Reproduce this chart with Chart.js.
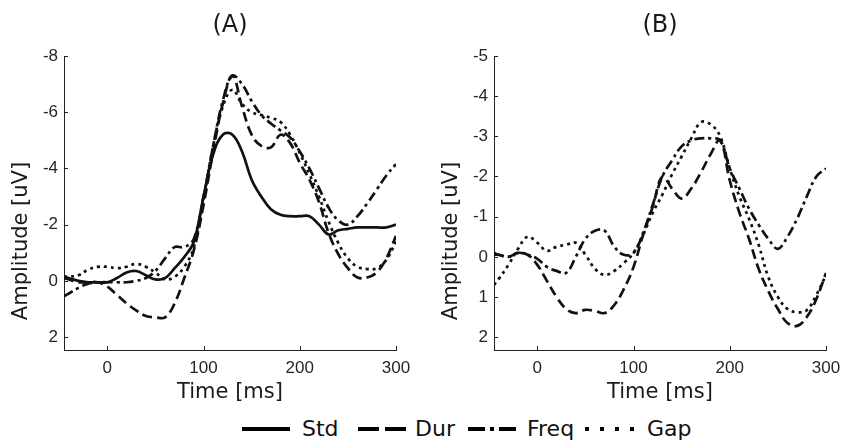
<!DOCTYPE html>
<html>
<head>
<meta charset="utf-8">
<script src="https://cdn.jsdelivr.net/npm/chart.js@4/dist/chart.umd.min.js"></script>
<style>
  html, body { margin: 0; padding: 0; background: #fff; }
  #wrap { position: relative; width: 842px; height: 440px; overflow: hidden; }
  #chartA { position: absolute; left: 0; top: 0; }
  #chartB { position: absolute; left: 430px; top: 0; }
  #legend { position: absolute; left: 0; top: 410px; }
</style>
</head>
<body>
<div id="wrap">
  <canvas id="chartA" width="421" height="410"></canvas>
  <canvas id="chartB" width="421" height="410"></canvas>
  <svg id="legend" width="842" height="30">
    <g stroke="#000" stroke-width="4">
      <line x1="242" y1="19" x2="290" y2="19"/>
      <line x1="358" y1="19" x2="408" y2="19" stroke-dasharray="21 6"/>
      <line x1="468" y1="19" x2="516" y2="19" stroke-dasharray="17 5 4 5"/>
      <line x1="585" y1="19" x2="635" y2="19" stroke-dasharray="4 11"/>
    </g>
    <g font-family="DejaVu Sans" font-size="22" fill="#111">
      <text x="302" y="26">Std</text>
      <text x="415" y="26">Dur</text>
      <text x="527" y="26">Freq</text>
      <text x="647" y="26">Gap</text>
    </g>
  </svg>
</div>
<script>
// time axis shared by every curve (ms)
const timeMs = [-45, -40, -30, -20, -10, 0, 10, 20, 30, 40, 50, 60, 70, 80, 90, 100, 110, 120,
  130, 140, 150, 160, 170, 180, 190, 200, 210, 220, 230, 240, 250, 260, 270, 280, 290, 300];

// panel (A) amplitudes, uV
const stdA = [-0.15, -0.1, 0.0, 0.05, 0.05, 0.05, -0.1, -0.3, -0.35, -0.2, -0.05, -0.1, -0.45, -0.85, -1.4,
  -3.0, -4.5, -5.2, -5.2, -4.6, -3.6, -3.0, -2.55, -2.35, -2.3, -2.3, -2.3, -2.0, -1.65, -1.8,
  -1.85, -1.9, -1.9, -1.9, -1.9, -2.0];
const durA = [-0.1, -0.05, 0.05, 0.05, 0.05, 0.2, 0.5, 0.8, 1.05, 1.25, 1.3, 1.3, 0.8, -0.1, -1.1,
  -2.7, -4.6, -6.3, -7.3, -6.2, -5.2, -4.8, -4.75, -5.2, -4.9, -4.2, -3.6, -2.8, -1.7, -0.95,
  -0.45, -0.12, -0.12, -0.3, -0.8, -1.6];
const freqA = [0.55, 0.45, 0.25, 0.1, 0.05, 0.05, 0.05, 0.05, 0.0, -0.1, -0.35, -0.8, -1.2, -1.2, -1.5,
  -3.0, -4.8, -6.4, -7.3, -7.0, -6.4, -5.9, -5.6, -5.35, -5.1, -4.6, -4.0, -3.3, -2.6, -2.15,
  -2.0, -2.3, -2.75, -3.25, -3.75, -4.15];
const gapA = [-0.15, -0.15, -0.2, -0.4, -0.5, -0.5, -0.45, -0.5, -0.6, -0.5, -0.3, -0.05, -0.15, -0.5, -1.2,
  -2.9, -4.8, -6.2, -6.8, -6.3, -6.0, -5.9, -5.8, -5.65, -5.2, -4.55, -3.8, -3.0, -2.1, -1.35,
  -0.8, -0.5, -0.42, -0.45, -0.75, -1.4];

// panel (B) amplitudes, uV
const durB = [-0.1, -0.05, 0.0, -0.1, -0.05, 0.2, 0.6, 1.0, 1.3, 1.4, 1.32, 1.35, 1.4, 1.2, 0.8,
  0.25, -0.55, -1.25, -2.0, -1.7, -1.45, -1.7, -2.1, -2.55, -2.9, -1.9, -1.1, -0.45, 0.3, 0.85,
  1.3, 1.65, 1.72, 1.5, 1.05, 0.4];
const freqB = [-0.05, -0.05, 0.0, -0.1, -0.05, 0.05, 0.25, 0.35, 0.4, 0.0, -0.45, -0.65, -0.65, -0.25, -0.05,
  -0.1, -0.6, -1.3, -2.0, -2.4, -2.75, -2.9, -2.95, -2.95, -2.9, -2.2, -1.7, -1.2, -0.8, -0.45,
  -0.2, -0.5, -0.95, -1.5, -2.0, -2.2];
const gapB = [0.7, 0.55, 0.2, -0.2, -0.5, -0.35, -0.15, -0.25, -0.3, -0.35, -0.05, 0.3, 0.45, 0.35, 0.15,
  -0.1, -0.55, -1.1, -1.55, -2.05, -2.5, -2.95, -3.35, -3.3, -3.0, -2.2, -1.5, -0.95, -0.3, 0.5,
  1.0, 1.3, 1.38, 1.33, 0.95, 0.45];

// tick labels
const xTicks = [0, 100, 200, 300];
const yTicksA = [-8, -6, -4, -2, 0, 2];
const yTicksB = [-5, -4, -3, -2, -1, 0, 1, 2];

const styles = {
  Std:  [],
  Dur:  [10, 5],
  Freq: [10, 4, 3, 4],
  Gap:  [3, 4]
};

function series(name, values) {
  return {
    label: name,
    data: timeMs.map((t, i) => ({ x: t, y: values[i] })),
    borderColor: '#111',
    borderWidth: 2.7,
    borderDash: styles[name],
    pointRadius: 0,
    tension: 0.4,
    fill: false
  };
}

// inward tick marks, panel title and y label
const axisDecor = {
  id: 'axisDecor',
  afterDraw(chart, args, opts) {
    const { ctx, chartArea: a, scales: { x, y } } = chart;
    ctx.save();
    ctx.strokeStyle = '#222';
    ctx.lineWidth = 1;
    ctx.beginPath();
    x.ticks.forEach(t => {
      const px = Math.round(x.getPixelForValue(t.value)) + 0.5;
      ctx.moveTo(px, a.bottom);
      ctx.lineTo(px, a.bottom - 4);
    });
    y.ticks.forEach(t => {
      const py = Math.round(y.getPixelForValue(t.value)) + 0.5;
      ctx.moveTo(a.left, py);
      ctx.lineTo(a.left + 4, py);
    });
    ctx.stroke();

    ctx.fillStyle = '#1a1a1a';
    ctx.textAlign = 'center';
    ctx.textBaseline = 'middle';
    ctx.font = '24px "DejaVu Sans"';
    ctx.fillText(opts.title, (a.left + a.right) / 2, 26);

    ctx.font = '21px "DejaVu Sans"';
    ctx.translate(22, (a.top + a.bottom) / 2 + 38);
    ctx.rotate(-Math.PI / 2);
    ctx.fillText('Amplitude [uV]', 0, 0);
    ctx.restore();
  }
};

function makePanel(id, title, datasets, yMin, yMax, yTicks) {
  new Chart(document.getElementById(id), {
    type: 'line',
    data: { datasets },
    plugins: [axisDecor],
    options: {
      responsive: false,
      animation: false,
      layout: { padding: { left: 0, right: 25, top: 56, bottom: 0 } },
      plugins: {
        legend: { display: false },
        tooltip: { enabled: false },
        axisDecor: { title }
      },
      scales: {
        x: {
          type: 'linear',
          min: -45,
          max: 300,
          afterBuildTicks: s => { s.ticks = xTicks.map(v => ({ value: v })); },
          afterFit: s => { s.height = 60; },
          grid: { display: false, drawTicks: false },
          border: { display: true, color: '#222', width: 1 },
          ticks: { color: '#262626', font: { family: 'Liberation Sans', size: 17 }, padding: 8, maxRotation: 0 },
          title: {
            display: true,
            text: 'Time [ms]',
            color: '#1a1a1a',
            font: { family: 'DejaVu Sans', size: 21 },
            padding: { top: 0, bottom: 5 }
          }
        },
        y: {
          type: 'linear',
          reverse: true,
          min: yMin,
          max: yMax,
          afterBuildTicks: s => { s.ticks = yTicks.map(v => ({ value: v })); },
          afterFit: s => { s.width = 64; },
          grid: { display: false, drawTicks: false },
          border: { display: true, color: '#222', width: 1 },
          ticks: { color: '#262626', font: { family: 'Liberation Sans', size: 17 }, padding: 6 }
        }
      }
    }
  });
}

makePanel('chartA', '(A)', [
  series('Std', stdA),
  series('Dur', durA),
  series('Freq', freqA),
  series('Gap', gapA)
], -8, 2.46, yTicksA);

makePanel('chartB', '(B)', [
  series('Dur', durB),
  series('Freq', freqB),
  series('Gap', gapB)
], -5, 2.32, yTicksB);
</script>
</body>
</html>
